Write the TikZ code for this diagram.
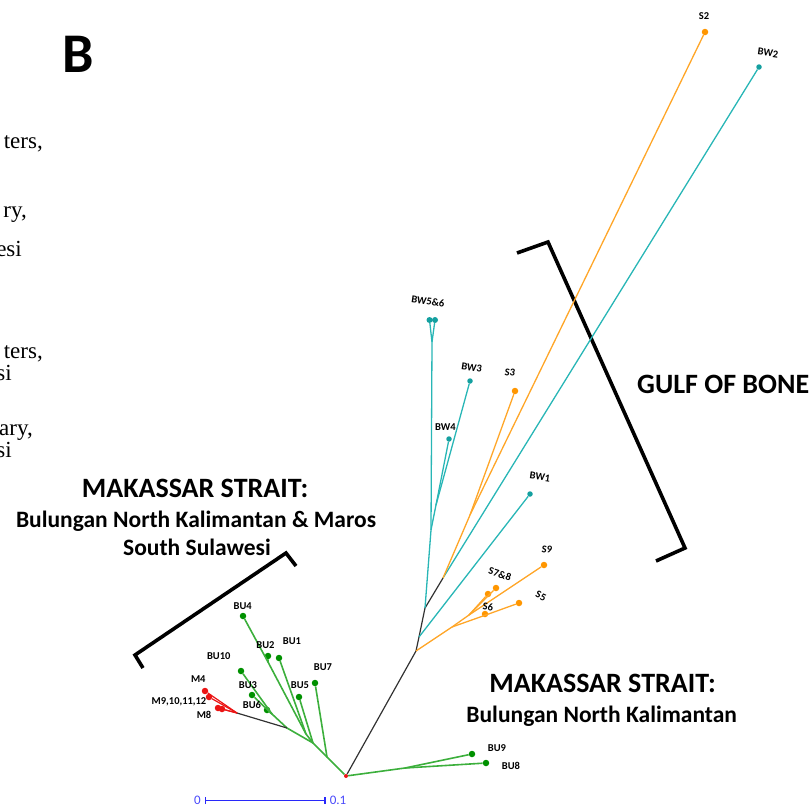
\documentclass[tikz,border=0pt]{standalone}
\usepackage{fontspec}
\setmainfont{Carlito}
\newfontfamily\cutserif{Liberation Serif}
\usetikzlibrary{arrows.meta}
\definecolor{cyn}{RGB}{40,182,182}
\definecolor{cyndot}{RGB}{20,160,160}
\definecolor{org}{RGB}{255,166,40}
\definecolor{orgdot}{RGB}{255,150,0}
\definecolor{grn}{RGB}{60,175,60}
\definecolor{grndot}{RGB}{0,145,0}
\definecolor{redt}{RGB}{235,20,20}
\definecolor{blk}{RGB}{50,50,50}
\definecolor{barblue}{RGB}{40,40,250}
\begin{document}
\begin{tikzpicture}[x=1pt,y=-1pt,
  lf/.style={font=\bfseries\fontsize{10.5}{12}\selectfont,inner sep=0pt},
  hd/.style={font=\bfseries\fontsize{28}{30}\selectfont,inner sep=0pt,anchor=base},
  sub/.style={font=\bfseries\fontsize{23.5}{26}\selectfont,inner sep=0pt,anchor=base},
  cut/.style={font=\cutserif\fontsize{23}{25}\selectfont,inner sep=0pt,anchor=base east},
  dot/.style={circle,fill,inner sep=0pt,minimum size=6.5pt},
  cy/.style={cyn,line width=1.3pt},
  og/.style={org,line width=1.3pt},
  gr/.style={grn,line width=1.6pt},
  rd/.style={redt,line width=1.2pt},
  bk/.style={blk,line width=1.2pt},
  br/.style={black,line width=3.6pt}]
\useasboundingbox (0,0) rectangle (812,807);

\node[font=\bfseries\fontsize{56}{60}\selectfont,inner sep=0pt,anchor=base] (pb) at (78,72) {B};
\node[cut] (t1) at (43,148) {ters,};
\node[cut] (t2) at (27,217) {ry,};
\node[cut] (t3) at (22,256) {esi};
\node[cut] (t4) at (43,358) {ters,};
\node[cut] (t5) at (12,380) {si};
\node[cut] (t6) at (33,435) {ary,};
\node[cut] (t7) at (12,457) {si};

\node[hd] (mk1) at (195,497) {MAKASSAR STRAIT:};
\node[sub] (mk1b) at (196,527) {Bulungan North Kalimantan \& Maros};
\node[sub] (mk1c) at (197,555) {South Sulawesi};
\node[hd,anchor=base west] (gob) at (637,393.5) {GULF OF BONE};
\node[hd] (mk2) at (602.5,692) {MAKASSAR STRAIT:};
\node[sub] (mk2b) at (601.7,722) {Bulungan North Kalimantan};

\draw[br] (143,668) -- (135,655) -- (286,553) -- (296,566);
\draw[br] (517,253) -- (548,242) -- (685,548) -- (656,561);

\coordinate (a) at (416,651);
\coordinate (b) at (419,637);
\coordinate (d) at (425,608);
\coordinate (c) at (443,578);
\coordinate (e) at (470,515);
\coordinate (f) at (431,530);
\coordinate (g) at (436,505);
\coordinate (w) at (432,342);
\coordinate (h) at (452,627);
\coordinate (j) at (469,615);
\coordinate (k) at (483,616);
\coordinate (m) at (327,757);
\coordinate (n) at (313,743);
\coordinate (p) at (306,734);
\coordinate (q) at (268,662);
\coordinate (t) at (287,728);
\coordinate (u) at (272,714);
\coordinate (v) at (237,713);
\coordinate (l) at (405,768);

\node[dot,orgdot] (s2) at (705,32) {};
\node[dot,orgdot] (s3) at (515,391) {};
\node[dot,orgdot] (s9) at (544,565) {};
\node[dot,orgdot] (s7) at (488,594) {};
\node[dot,orgdot] (s8) at (496,588) {};
\node[dot,orgdot] (s6) at (485,614) {};
\node[dot,orgdot] (s5) at (519,603) {};
\node[dot,cyndot,minimum size=5.5pt] (bw2) at (759,67) {};
\node[dot,cyndot,minimum size=5.5pt] (bw1) at (530,494) {};
\node[dot,cyndot,minimum size=5.5pt] (bw3) at (470,381) {};
\node[dot,cyndot,minimum size=5.5pt] (bw4) at (449,439) {};
\node[dot,cyndot,minimum size=6pt] (bw5) at (429.5,320) {};
\node[dot,cyndot,minimum size=6pt] (bw6) at (435,320) {};
\node[dot,grndot] (bu4) at (243,616) {};
\node[dot,grndot] (bu2) at (268,656) {};
\node[dot,grndot] (bu1) at (279,658) {};
\node[dot,grndot] (bu5) at (299,697) {};
\node[dot,grndot] (bu7) at (315,683) {};
\node[dot,grndot] (bu10) at (241,671) {};
\node[dot,grndot] (bu3) at (252,695) {};
\node[dot,grndot] (bu6) at (267,710) {};
\node[dot,grndot] (bu9) at (472,754) {};
\node[dot,grndot] (bu8) at (486,763) {};
\node[dot,redt] (m4) at (205,691) {};
\node[dot,redt] (m9) at (209,697) {};
\node[dot,redt] (m8) at (218,708) {};
\node[dot,redt] (m12) at (222,709) {};
\node[dot,redt,minimum size=4pt] (root) at (346,776) {};

\draw[bk] (root) -- (a) -- (b) -- (d) -- (c);
\draw[cy] (b) -- (bw1);
\draw[cy] (d) -- (f) -- (w) -- (bw5);
\draw[cy] (w) -- (bw6);
\draw[cy] (f) -- (g) -- (bw4);
\draw[cy] (g) -- (bw3);
\draw[cy] (c) -- (bw2);
\draw[og] (c) -- (e) -- (s2);
\draw[og] (e) -- (s3);
\draw[og] (a) -- (h) -- (j) -- (s9);
\draw[og] (j) -- (s7);
\draw[og] (j) -- (s8);
\draw[og] (h) -- (k) -- (s5);
\draw[og] (k) -- (s6);
\draw[gr] (root) -- (l) -- (bu9);
\draw[gr] (l) -- (bu8);
\draw[gr] (root) -- (m) -- (bu7);
\draw[gr] (m) -- (n) -- (bu5);
\draw[gr] (n) -- (p) -- (bu1);
\draw[gr] (p) -- (q) -- (bu2);
\draw[gr] (q) -- (bu4);
\draw[gr] (n) -- (t) -- (u) -- (bu6);
\draw[gr] (u) -- (bu3);
\draw[gr] (u) -- (bu10);
\draw[bk] (t) -- (v);
\draw[rd] (v) -- (m4);
\draw[rd] (v) -- (m9);
\draw[rd] (v) -- (m8);
\draw[rd] (v) -- (m12);

\node[lf] (ls2) at (704,16) {S2};
\node[lf,rotate=-8] (lbw2) at (768,53) {BW2};
\node[lf,rotate=-8] (lbw56) at (428,301) {BW5\&6};
\node[lf,rotate=-8] (lbw3) at (471.7,367.5) {BW3};
\node[lf,rotate=-8] (ls3) at (510,372.5) {S3};
\node[lf] (lbw4) at (445.5,427) {BW4};
\node[lf,rotate=-8] (lbw1) at (540,477) {BW1};
\node[lf,rotate=-8] (ls9) at (547,549.5) {S9};
\node[lf,rotate=-18] (ls78) at (500,574) {S7\&8};
\node[lf,rotate=-25] (ls5) at (541,596) {S5};
\node[lf,rotate=-8] (ls6) at (488,607) {S6};
\node[lf] (lbu9) at (497,748) {BU9};
\node[lf] (lbu8) at (511,766) {BU8};
\node[lf] (lbu7) at (323,667) {BU7};
\node[lf] (lbu1) at (292,641) {BU1};
\node[lf] (lbu2) at (265.5,645) {BU2};
\node[lf] (lbu4) at (242.7,605.7) {BU4};
\node[lf] (lbu10) at (218.7,656) {BU10};
\node[lf] (lbu3) at (248,685.5) {BU3};
\node[lf] (lbu5) at (300,685.5) {BU5};
\node[lf] (lbu6) at (252,704.5) {BU6};
\node[lf] (lm4) at (198.3,679) {M4};
\node[lf] (lm9) at (179,701.5) {M9,10,11,12};
\node[lf] (lm8) at (204,714.5) {M8};

\node[font=\fontsize{13}{14}\selectfont,text=barblue!85,inner sep=1pt] (z0) at (197.5,800.5) {0};
\node[font=\fontsize{13}{14}\selectfont,text=barblue!85,inner sep=1pt] (z1) at (338,800.5) {0.1};
\draw[barblue,line width=1.3pt,{Bar[width=7pt]}-{Bar[width=7pt]}] (z0.east) ++(3,0) -- ([xshift=-3pt]z1.west);
\end{tikzpicture}
\end{document}
